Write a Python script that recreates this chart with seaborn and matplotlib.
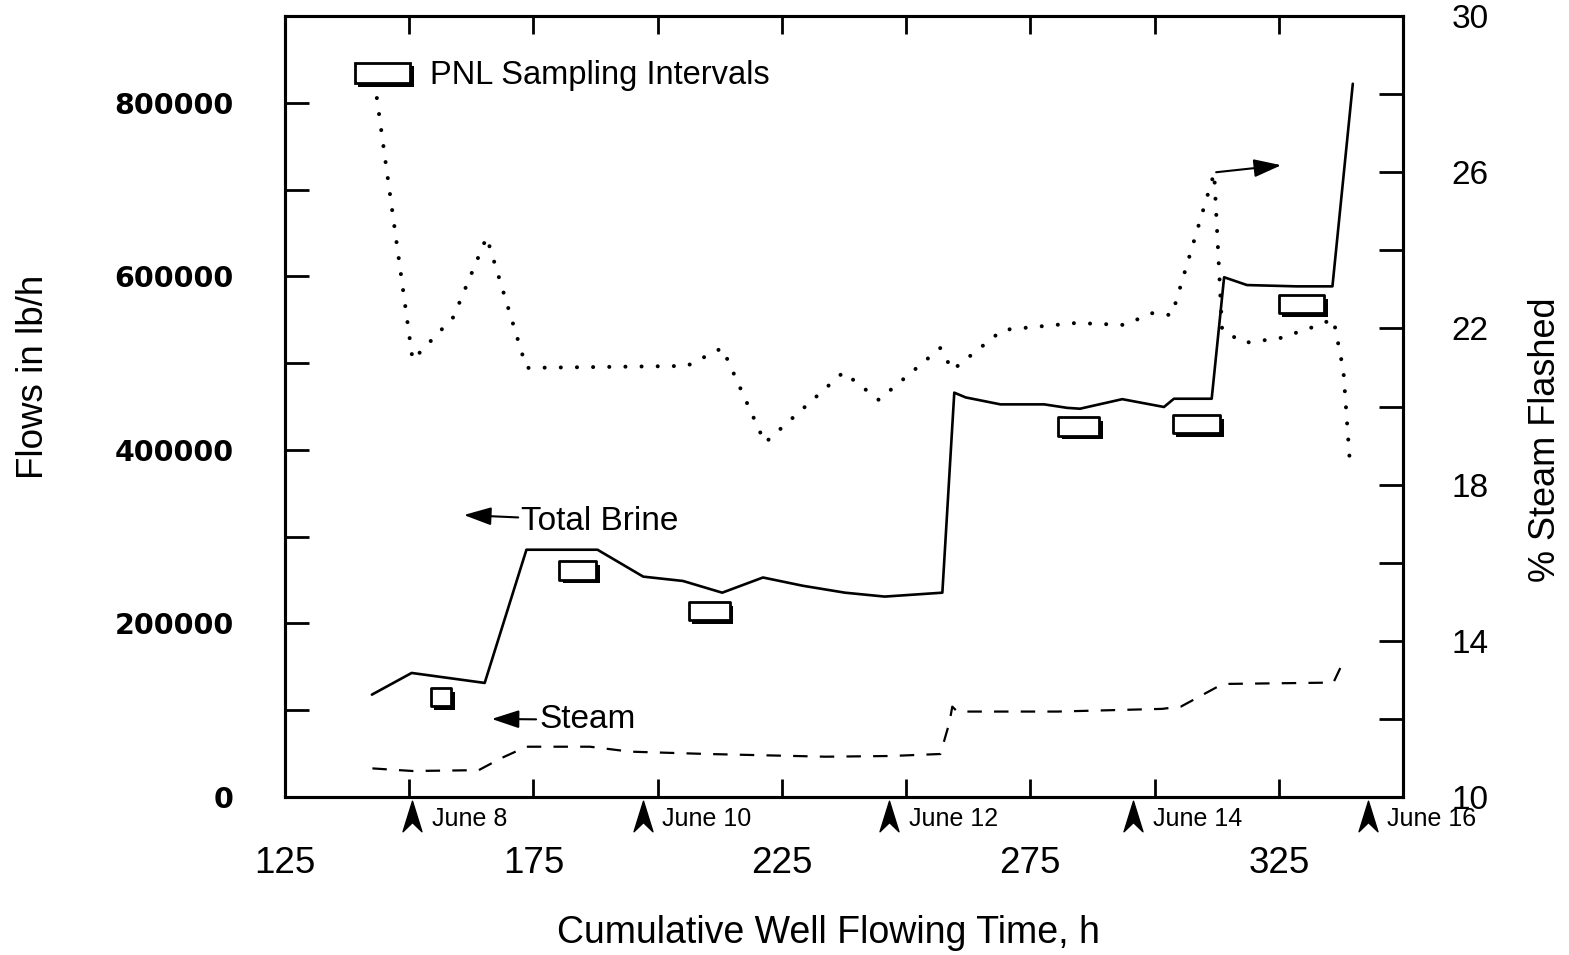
import matplotlib
matplotlib.use("Agg")
import matplotlib.pyplot as plt
import matplotlib.patheffects as pe
from matplotlib.patches import Rectangle, Patch
from matplotlib.path import Path
import seaborn as sns

# Total brine flow (lb/h) vs cumulative well flowing time (h)
brine_hours = [142.5, 150.5, 165.2, 173.6, 187.9, 197.1, 205.1, 213.0, 221.2, 229.2,
               237.7, 245.7, 257.3, 259.7, 262.0, 269.0, 277.8, 282.4, 285.0, 293.5,
               301.9, 303.9, 311.5, 314.0, 318.6, 328.6, 335.8, 339.9]
brine_flow = [118000, 143000, 131500, 285000, 285000, 254000, 249000, 235500, 253000, 243500,
              235500, 231000, 235500, 466000, 460500, 452500, 452500, 448500, 447500, 458500,
              449500, 459000, 459000, 599000, 590000, 588500, 588500, 822000]

# Steam flow (lb/h)
steam_hours = [142.6, 150.7, 164.0, 168.6, 173.6, 186.4, 194.5, 210.1, 233.8, 246.9,
               256.9, 258.7, 259.3, 260.3, 280.4, 301.5, 305.3, 313.0, 315.0, 336.0, 338.0]
steam_flow = [33000, 30000, 31000, 45000, 58000, 58000, 52300, 49600, 46500, 47300,
              49600, 85400, 104200, 98500, 98500, 101600, 104200, 128100, 130400, 131900, 156200]

# Percent steam flashed (right axis)
flash_hours = [143.5, 150.7, 158.9, 165.6, 173.6, 205.9, 213.0, 221.6, 237.4, 244.5,
               256.9, 259.3, 269.4, 284.2, 293.9, 299.5, 303.5, 312.0, 313.6, 318.0,
               325.2, 332.0, 336.0, 338.0, 339.3]
flash_pct = [27.9, 21.19, 22.29, 24.34, 20.99, 21.04, 21.5, 19.07, 20.88, 20.17,
             21.5, 20.93, 21.96, 22.14, 22.09, 22.39, 22.34, 25.98, 21.96, 21.63,
             21.75, 22.04, 22.24, 20.93, 18.58]

# PNL sampling intervals: start/end hour and flow level of each box
sample_start = [154.3, 180.2, 206.3, 280.6, 303.7, 325.0]
sample_end = [158.5, 187.7, 214.5, 288.9, 313.2, 334.2]
sample_flow = [115000, 261000, 214000, 427000, 429500, 568000]

# Calendar day markers along the time axis
day_hours = [150.6, 197.0, 246.6, 295.7, 342.9]
day_labels = ["June 8", "June 10", "June 12", "June 14", "June 16"]

# Axis ticks
x_ticks = [125, 175, 225, 275, 325]
x_minor = [150, 200, 250, 300]
flow_ticks = [0, 200000, 400000, 600000, 800000]
flow_minor = [100000, 300000, 500000, 700000]
pct_ticks = [10, 14, 18, 22, 26, 30]
pct_minor = [12, 16, 20, 24, 28]

sns.set_style("ticks")
plt.rcParams["font.family"] = ["Liberation Sans", "DejaVu Sans"]
plt.rcParams.update({
    "axes.linewidth": 2.2,
    "axes.edgecolor": "black",
    "axes.labelcolor": "black",
    "text.color": "black",
    "xtick.color": "black",
    "ytick.color": "black",
})

fig = plt.figure(figsize=(15.69, 9.55), dpi=100)
ax = fig.add_axes([0.1816, 0.1654, 0.7126, 0.8178])
ax2 = ax.twinx()

sns.lineplot(x=brine_hours, y=brine_flow, ax=ax, color="black", linewidth=1.9,
             estimator=None, sort=False)
sns.lineplot(x=steam_hours, y=steam_flow, ax=ax, color="black", linewidth=1.6,
             estimator=None, sort=False)
ax.lines[-1].set_linestyle((0, (6.5, 5.5)))

sns.lineplot(x=flash_hours, y=flash_pct, ax=ax2, color="black", linewidth=2.9,
             estimator=None, sort=False)
dots = ax2.lines[-1]
dots.set_linestyle((0, (0.01, 4.0)))
dots.set_dash_capstyle("round")

ax.set_xlim(125, 350)
ax.set_ylim(0, 900000)
ax2.set_ylim(10, 30)

# Sampling interval boxes with drop shadow
box_h = 21000
shadow = [pe.SimplePatchShadow(offset=(2.5, -2.5), shadow_rgbFace="black", alpha=1.0), pe.Normal()]
for s, e, f in zip(sample_start, sample_end, sample_flow):
    r = Rectangle((s, f - box_h / 2), e - s, box_h, facecolor="white",
                  edgecolor="black", linewidth=2.0, joinstyle="round", zorder=3)
    r.set_path_effects(shadow)
    ax.add_patch(r)

# Ticks and labels
ax.set_xticks(x_ticks, labels=[str(t) for t in x_ticks])
ax.set_xticks(x_minor, minor=True)
ax.set_yticks(flow_ticks, labels=[str(t) for t in flow_ticks],
              fontfamily="DejaVu Sans", fontweight="bold", fontsize=20.5)
ax.set_yticks(flow_minor, minor=True)
ax.tick_params(axis="x", which="both", direction="in", top=True, bottom=True,
               length=13, width=2, pad=35, labelsize=26.5)
ax.tick_params(axis="y", which="both", direction="in", left=True, right=False,
               length=17, width=2, pad=37)

ax2.set_yticks(pct_ticks, labels=[str(t) for t in pct_ticks])
ax2.set_yticks(pct_minor, minor=True)
ax2.tick_params(axis="y", which="both", direction="in", length=17, width=2,
                pad=35, labelsize=24)
for sp in ax2.spines.values():
    sp.set_linewidth(2.2)
    sp.set_edgecolor("black")

ax.set_xlabel("Cumulative Well Flowing Time, h", fontsize=27)
ax.set_ylabel("Flows in lb/h", fontsize=26.5)
ax2.set_ylabel("% Steam Flashed", fontsize=26)
ax.xaxis.set_label_coords(0.486, -0.151)
ax.yaxis.set_label_coords(-0.209, 0.538)
ax2.yaxis.set_label_coords(1.112, 0.457)

# Day markers under the axis
head = Path([(0, 1), (0.62, -1), (0, -0.4), (-0.62, -1), (0, 1)],
            [Path.MOVETO, Path.LINETO, Path.LINETO, Path.LINETO, Path.CLOSEPOLY])
xt = ax.get_xaxis_transform()
ax.plot(day_hours, [-0.024] * len(day_hours), linestyle="none", marker=head,
        markersize=22, color="black", transform=xt, clip_on=False)
for h, lab in zip(day_hours, day_labels):
    ax.annotate(lab, xy=(h, 0), xycoords=xt, xytext=(14, -16), textcoords="offset points",
                ha="left", va="center", fontsize=18)

# Series call-outs
arrow = dict(arrowstyle="-|>,head_length=0.7,head_width=0.23", color="black",
             lw=1.5, shrinkA=0, shrinkB=0)
ax.annotate("Total Brine", xy=(161.0, 325000), xytext=(172.6, 318000),
            ha="left", va="center", fontsize=24, arrowprops=arrow)
ax.annotate("Steam", xy=(166.6, 90000), xytext=(176.2, 89000),
            ha="left", va="center", fontsize=24, arrowprops=arrow)
ax2.annotate("", xy=(325.5, 26.18), xytext=(312.4, 26.0),
             arrowprops=dict(arrow, mutation_scale=24))

# Legend for the sampling boxes
leg = ax.legend(handles=[Patch(facecolor="white", edgecolor="black", linewidth=2.0)],
                labels=["PNL Sampling Intervals"], loc="center left",
                bbox_to_anchor=(0.0626, 0.9233), frameon=False, fontsize=23.5,
                handlelength=1.7, handleheight=0.6, handletextpad=0.6,
                borderpad=0, borderaxespad=0)
for p in leg.get_patches():
    p.set_path_effects(shadow)

fig.savefig("out.png", dpi=100)
